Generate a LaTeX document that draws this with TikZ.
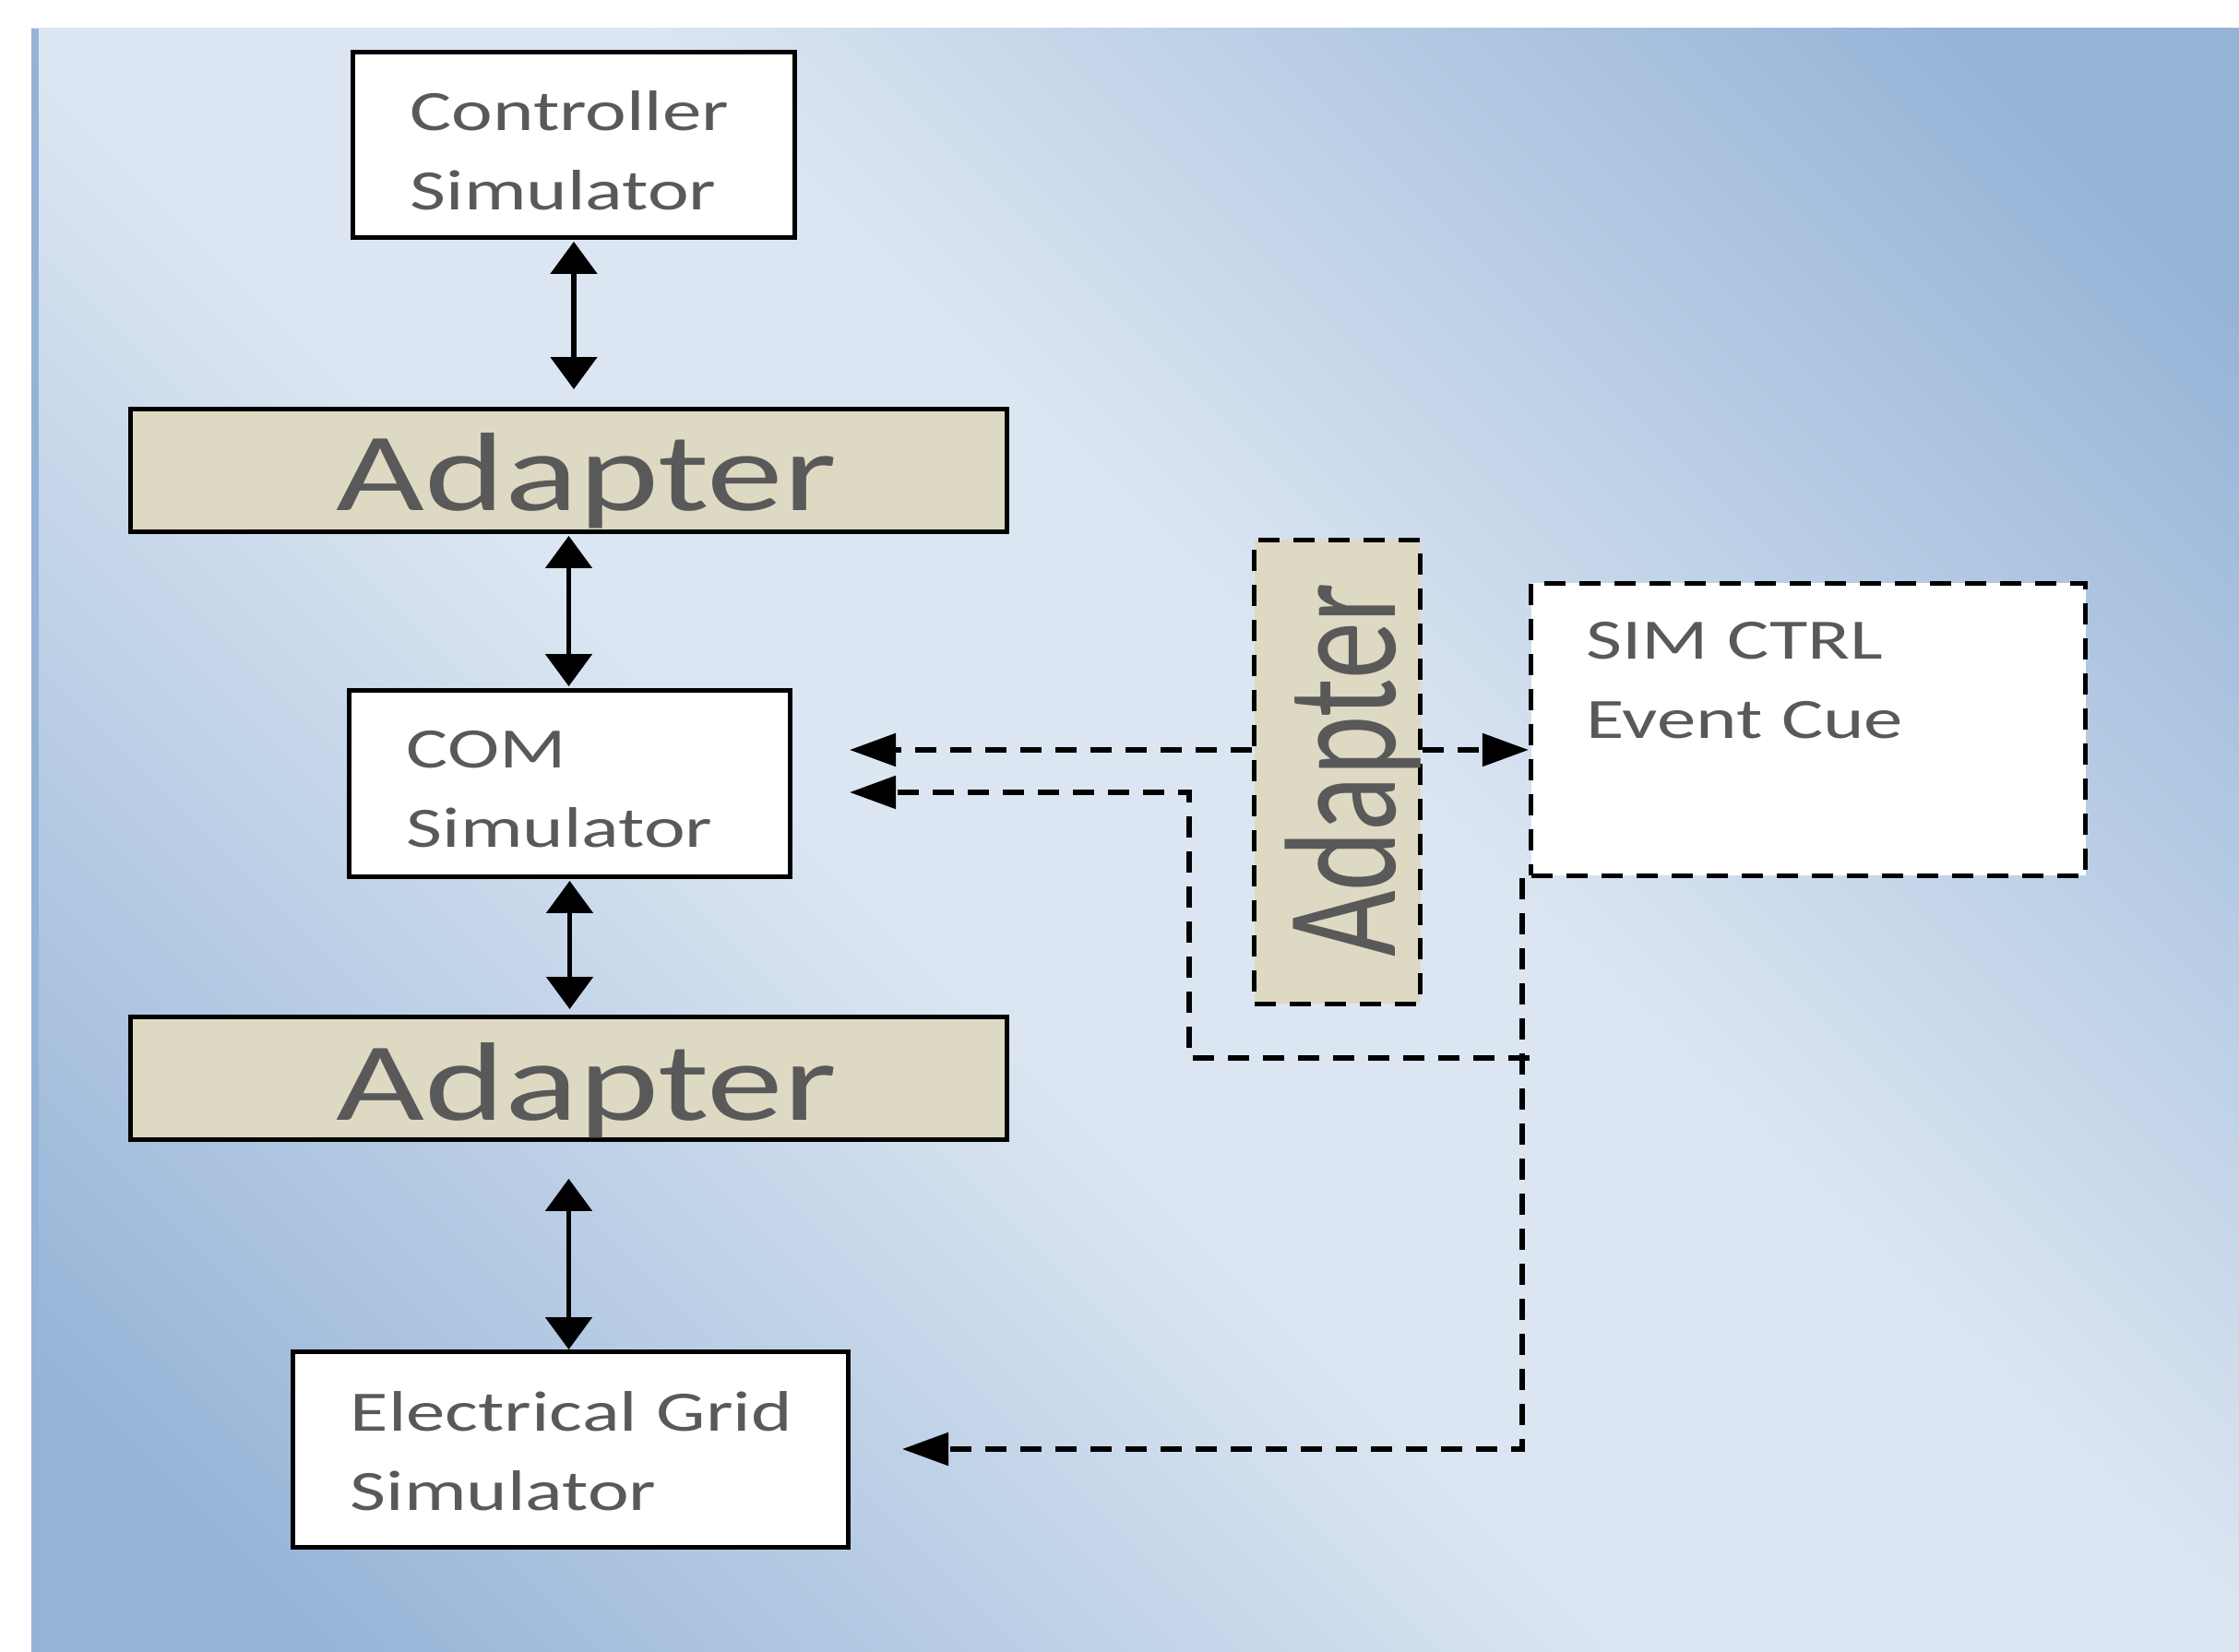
\documentclass[tikz,border=0pt]{standalone}
\usepackage{fontspec}
\usetikzlibrary{arrows.meta}
\setmainfont{Carlito}
\newfontfamily\boxfont[FakeStretch=1.37]{Carlito}
\newfontfamily\vertfont[FakeStretch=0.72]{Carlito}
\definecolor{bgdark}{HTML}{95B3D7}
\definecolor{bglight}{HTML}{DCE6F2}
\definecolor{adafill}{HTML}{DDD9C3}
\definecolor{txtgray}{HTML}{595959}
\pgfdeclareverticalshading{bgshade}{100bp}{color(0bp)=(bgdark); color(28.5bp)=(bgdark); color(46bp)=(bglight); color(54bp)=(bglight); color(71.5bp)=(bgdark); color(100bp)=(bgdark)}

\begin{document}
\begin{tikzpicture}[box/.style={draw, line width=1.4pt, fill=white, inner sep=0pt}, adapter/.style={box, fill=adafill}, dashbox/.style={line width=1.5pt, dash pattern=on 0.23cm off 0.15cm},
	boxtext/.style={anchor=base west, inner sep=0pt, text width=5.2cm, align=left, text=txtgray, font=\boxfont\fontsize{17.6pt}{24.5pt}\selectfont},
	adatext/.style={anchor=base, inner sep=0pt, text=txtgray, font=\boxfont\fontsize{34.4pt}{40pt}\selectfont},
	vadatext/.style={anchor=base, rotate=90, inner sep=0pt, text=txtgray, font=\vertfont\fontsize{49pt}{55pt}\selectfont},
	biarrow/.style={line width=1.5pt, {Triangle[length=0.35cm,width=0.5cm]}-{Triangle[length=0.35cm,width=0.5cm]}},
	dasharrow/.style={dashbox, -{Triangle[length=0.5cm,width=0.35cm]}}]

		% background
		\useasboundingbox (0,0) rectangle (24.27,-17.91);
		\begin{scope}
			\clip (0.34,-0.31) rectangle (24.27,-17.91);
			\shade[shading=bgshade, transform canvas={rotate around={-45:(12.305,-9.11)}}] (-2.7,-23.8) rectangle (27.3,5.6);
		\end{scope}
		\fill[bgdark] (0.34,-0.31) rectangle (0.42,-17.91);

		% simulator chain
		\node[box, minimum width=4.79cm, minimum height=2.01cm] (ctrl) at (6.22,-1.57) {};
		\node[adapter, minimum width=9.50cm, minimum height=1.33cm] (topada) at (6.165,-5.10) {};
		\node[box, minimum width=4.78cm, minimum height=2.02cm] (com) at (6.175,-8.495) {};
		\node[adapter, minimum width=9.50cm, minimum height=1.33cm] (botada) at (6.165,-11.69) {};
		\node[box, minimum width=6.02cm, minimum height=2.12cm] (grid) at (6.185,-15.715) {};
		\node[adapter, dashbox, minimum width=1.80cm, minimum height=5.03cm] (vada) at (14.495,-8.37) {};
		\node[box, dashbox, minimum width=6.01cm, minimum height=3.17cm] (sim) at (19.6,-7.91) {};

		\node[boxtext] (ctrltext) at ([shift={(0.64,-0.875)}]ctrl.north west) {Controller\\Simulator};
		\node[boxtext] (comtext) at ([shift={(0.64,-0.865)}]com.north west) {COM\\Simulator};
		\node[boxtext] (gridtext) at ([shift={(0.64,-0.88)}]grid.north west) {Electrical Grid\\Simulator};
		\node[boxtext] (simtext) at ([shift={(0.62,-0.85)}]sim.north west) {SIM CTRL\\Event Cue};
		\node[adatext] (topadatext) at ([shift={(0.195,0.25)}]topada.south) {Adapter};
		\node[adatext] (botadatext) at ([shift={(0.195,0.23)}]botada.south) {Adapter};
		\node[vadatext] (vadatext) at ([shift={(-0.30,0.02)}]vada.east) {Adapter};

		% links
		\draw[biarrow, shorten <=0.02cm, shorten >=0.19cm] (ctrl.south) -- (ctrl.south |- topada.north);
		\draw[biarrow, shorten <=0.02cm, shorten >=0.02cm] (topada.south) -- (topada.south |- com.north);
		\draw[biarrow, shorten <=0.02cm, shorten >=0.06cm] (com.south) -- (com.south |- botada.north);
		\draw[biarrow, shorten <=0.40cm] (botada.south) -- (botada.south |- grid.north);

		\coordinate (comin) at (9.21,-8.13);
		\coordinate (comin2) at (9.21,-8.59);
		\coordinate (gridin) at (9.78,-15.71);
		\coordinate (split) at (16.58,-11.47);
		\coordinate (bend) at (12.89,-11.47);
		\draw[dasharrow] (vada.west |- comin) -- (comin);
		\draw[dasharrow] (vada.east |- comin) -- (sim.west |- comin);
		\draw[dasharrow] ([xshift=-0.07cm]sim.south west) |- (gridin);
		\draw[dasharrow] (split) -- (bend) |- (comin2);
	\end{tikzpicture}
\end{document}
